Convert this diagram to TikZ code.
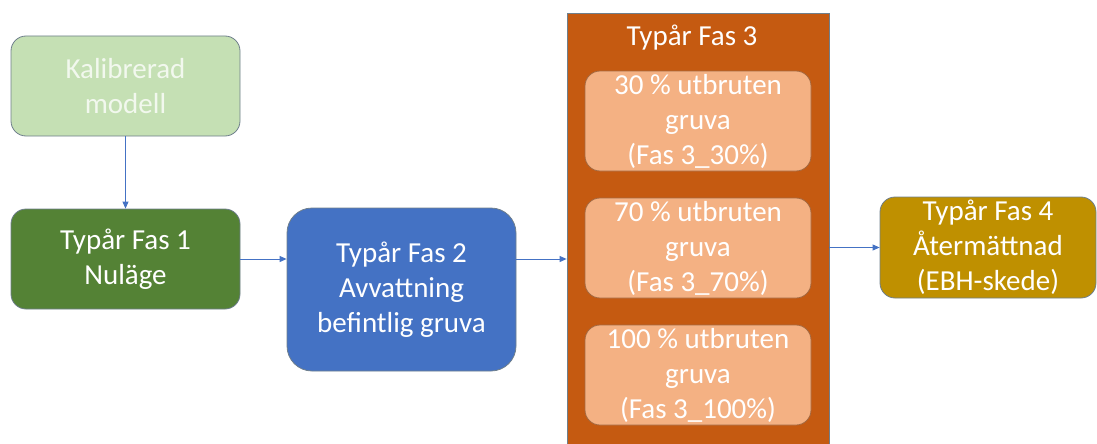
\documentclass[tikz,border=0pt]{standalone}
\usepackage{fontspec}
\setmainfont{Carlito}
\usetikzlibrary{arrows.meta}
\definecolor{lgreen}{HTML}{C5E0B4}
\definecolor{lgtext}{HTML}{F2F8EE}
\definecolor{dgreen}{HTML}{548235}
\definecolor{mblue}{HTML}{4472C4}
\definecolor{orng}{HTML}{C55A11}
\definecolor{peach}{HTML}{F4B183}
\definecolor{gold}{HTML}{BF9000}
\definecolor{edge}{HTML}{6F7F8C}
\tikzset{
  box/.style={draw=edge, line width=0.8pt, rounded corners=15pt, inner sep=0pt,
    font=\fontsize{29}{35}\selectfont, text=white, align=center},
  arr/.style={draw=mblue, line width=0.9pt, -{Triangle[length=7pt,width=6pt]}}
}
\begin{document}
\begin{tikzpicture}[x=1pt,y=-1pt]
\useasboundingbox (0,0) rectangle (1097,444);
\begin{scope}
\clip (0,0) rectangle (1097,444);
\node[box, fill=lgreen, text=lgtext, minimum width=229pt, minimum height=100pt] (kal) at (125.5,86) {Kalibrerad\\modell};
\node[box, fill=dgreen, minimum width=229pt, minimum height=100pt] (f1) at (125.5,259) {Typår Fas 1\\Nuläge};
\node[box, fill=mblue, rounded corners=25pt, minimum width=229pt, minimum height=163pt] (f2) at (401.5,289.5) {Typår Fas 2\\Avvattning\\befintlig gruva};
\node[draw=edge, line width=0.8pt, fill=orng, minimum width=262pt, minimum height=445pt, inner sep=0pt] (f3) at (698,235.5) {};
\node[font=\fontsize{29}{35}\selectfont, text=white, inner sep=0pt] (f3t) at (692,38) {Typår Fas 3};
\node[box, fill=peach, draw=orng!60!edge, minimum width=226pt, minimum height=100pt] (a) at (698,121) {30 \% utbruten\\gruva\\(Fas 3\_30\%)};
\node[box, fill=peach, draw=orng!60!edge, minimum width=226pt, minimum height=100pt] (b) at (698,248) {70 \% utbruten\\gruva\\(Fas 3\_70\%)};
\node[box, fill=peach, draw=orng!60!edge, minimum width=226pt, minimum height=100pt] (c) at (698,375) {100 \% utbruten\\gruva\\(Fas 3\_100\%)};
\node[box, fill=gold, minimum width=216pt, minimum height=101pt] (f4) at (988,247.5) {Typår Fas 4\\Återmättnad\\(EBH-skede)};
\end{scope}
\draw[arr] (kal.south) -- (f1.north);
\draw[arr] (f1.east) -- (f2.west |- f1.east);
\draw[arr] (f2.east |- f1.east) -- (f3.west |- f1.east);
\draw[arr] (f3.east |- f4.west) -- (f4.west);
\end{tikzpicture}
\end{document}
